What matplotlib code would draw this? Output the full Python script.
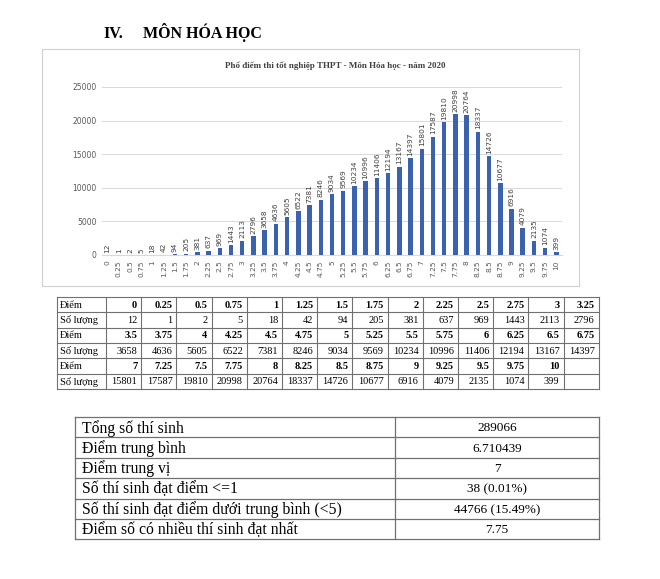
import numpy as np
import matplotlib
matplotlib.use("Agg")
from matplotlib import pyplot as plt
from matplotlib.patches import Rectangle

# du lieu pho diem mon Hoa 2020
diem = [0, 0.25, 0.5, 0.75, 1, 1.25, 1.5, 1.75, 2, 2.25, 2.5, 2.75, 3, 3.25,
        3.5, 3.75, 4, 4.25, 4.5, 4.75, 5, 5.25, 5.5, 5.75, 6, 6.25, 6.5, 6.75,
        7, 7.25, 7.5, 7.75, 8, 8.25, 8.5, 8.75, 9, 9.25, 9.5, 9.75, 10]
so_luong = [12, 1, 2, 5, 18, 42, 94, 205, 381, 637, 969, 1443, 2113, 2796,
            3658, 4636, 5605, 6522, 7381, 8246, 9034, 9569, 10234, 10996, 11406, 12194, 13167, 14397,
            15801, 17587, 19810, 20998, 20764, 18337, 14726, 10677, 6916, 4079, 2135, 1074, 399]
y_ticks = [0, 5000, 10000, 15000, 20000, 25000]

tk_nhan = ["Tổng số thí sinh", "Điểm trung bình", "Điểm trung vị",
           "Số thí sinh đạt điểm <=1", "Số thí sinh đạt điểm dưới trung bình (<5)",
           "Điểm số có nhiều thí sinh đạt nhất"]
tk_gia_tri = ["289066", "6.710439", "7", "38 (0.01%)", "44766 (15.49%)", "7.75"]

W, H = 660, 579
SERIF = ["Liberation Serif", "DejaVu Serif"]
fig = plt.figure(figsize=(W / 100, H / 100), dpi=100)
fig.patch.set_facecolor("white")

# lop phu toa do pixel
ov = fig.add_axes([0, 0, 1, 1])
ov.set_xlim(0, W)
ov.set_ylim(H, 0)
ov.axis("off")

# tieu de muc
ov.text(103, 38, "IV.", family=SERIF, fontweight="bold", fontsize=11.5, va="baseline")
ov.text(143, 38, "MÔN HÓA HỌC", family=SERIF, fontweight="bold", fontsize=11.5, va="baseline")

# khung bieu do
ov.add_patch(Rectangle((42, 49), 537, 237, fill=False, edgecolor="#d0d0d0", lw=0.8))
ov.text(335, 66, "Phổ điểm thi tốt nghiệp THPT - Môn Hóa học - năm 2020", family=SERIF,
        fontweight="bold", fontsize=6.5, color="#404040", ha="center", va="center")

def px_axes(x0, y0, x1, y1):
    return fig.add_axes([x0 / W, 1 - y1 / H, (x1 - x0) / W, (y1 - y0) / H])

ax = px_axes(102, 87, 562, 255)
ax.patch.set_alpha(0)
x = np.arange(len(diem))
ax.bar(x, so_luong, width=0.4, color="#3A62AE", zorder=3)
for xi, v in zip(x, so_luong):
    ax.text(xi, v + 350, str(v), rotation=90, ha="center", va="bottom",
            fontsize=5.3, color="#404040")
ax.set_xlim(-0.5, len(diem) - 0.5)
ax.set_ylim(0, 25000)
ax.set_yticks(y_ticks)
ax.set_yticklabels([str(t) for t in y_ticks], fontsize=5.5, color="#595959")
ax.set_xticks(x)
ax.set_xticklabels(["{:g}".format(d) for d in diem], rotation=90, fontsize=5.3, color="#595959")
ax.tick_params(length=0, pad=4)
ax.grid(axis="y", color="#d9d9d9", lw=0.7, zorder=0)
for s in ["top", "right", "left"]:
    ax.spines[s].set_visible(False)
ax.spines["bottom"].set_color("#d9d9d9")

# bang diem
tx0, tw0, cw, rh, ty0 = 57, 49, 35.2, 15.3, 297
ncol = 14
line_c = "#707070"
for blk in range(3):
    d_blk = diem[blk * ncol:(blk + 1) * ncol]
    s_blk = so_luong[blk * ncol:(blk + 1) * ncol]
    for r, (lab, vals, bold) in enumerate([("Điểm", ["{:g}".format(d) for d in d_blk], True),
                                           ("Số lượng", [str(v) for v in s_blk], False)]):
        yc = ty0 + (blk * 2 + r + 0.5) * rh
        ov.text(tx0 + 3, yc + 0.5, lab, family=SERIF, fontsize=7.5, va="center")
        for c, t in enumerate(vals):
            ov.text(tx0 + tw0 + (c + 1) * cw - 4, yc + 0.5, t, family=SERIF, fontsize=7.5,
                    va="center", ha="right", fontweight="bold" if bold else "normal")
nrow = 6
for r in range(nrow + 1):
    ov.plot([tx0, tx0 + tw0 + ncol * cw], [ty0 + r * rh] * 2, color=line_c, lw=0.8)
for c in range(ncol + 2):
    xx = tx0 if c == 0 else tx0 + tw0 + (c - 1) * cw
    ov.plot([xx, xx], [ty0, ty0 + nrow * rh], color=line_c, lw=0.8)

# bang thong ke
sx0, sx1, sx2, sy0, srh = 75, 395, 599, 417, 20.4
for i, (lab, val) in enumerate(zip(tk_nhan, tk_gia_tri)):
    yc = sy0 + (i + 0.5) * srh
    ov.text(sx0 + 7, yc + 1, lab, family=SERIF, fontsize=11.3, va="center")
    ov.text((sx1 + sx2) / 2, yc + 1, val, family=SERIF, fontsize=9.5, va="center", ha="center")
for i in range(len(tk_nhan) + 1):
    ov.plot([sx0, sx2], [sy0 + i * srh] * 2, color=line_c, lw=0.9)
for xx in [sx0, sx1, sx2]:
    ov.plot([xx, xx], [sy0, sy0 + len(tk_nhan) * srh], color=line_c, lw=0.9)

fig.savefig("out.png", dpi=100)
